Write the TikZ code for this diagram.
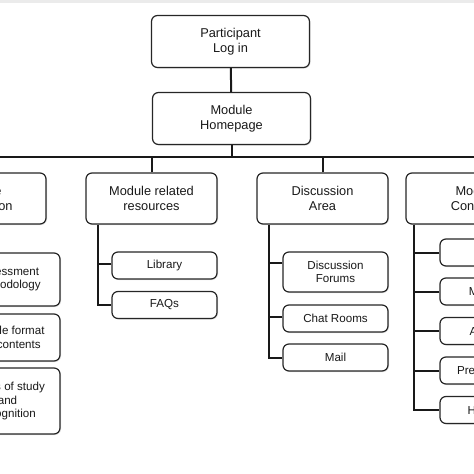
\documentclass[tikz,border=0pt]{standalone}
\usepackage{fontspec}
\setmainfont{Liberation Sans}
\usetikzlibrary{shadows}

\begin{document}
\begin{tikzpicture}[x=1pt,y=-1pt]
 \tikzstyle{box} = [draw=black!85,line width=1.2pt,fill=white,rounded corners=6pt,align=center,inner sep=0pt,text=black!90,drop shadow={shadow xshift=1pt,shadow yshift=-1pt,opacity=0.25}]
 \tikzstyle{topbox} = [box,minimum width=\topw,minimum height=52,font=\fontsize{12.8}{15}\selectfont]
 \tikzstyle{midbox} = [box,minimum width=\midw,minimum height=51,font=\fontsize{12.8}{15}\selectfont]
 \tikzstyle{subbox} = [box,minimum width=\subw,minimum height=27,font=\fontsize{11.6}{13.4}\selectfont]
 \tikzstyle{link} = [draw=black!90,line width=2pt]
 \newcommand{\topw}{158}
 \newcommand{\midw}{131}
 \newcommand{\subw}{105}

 \clip (0,0) rectangle (474,474);
 \fill[black!8] (0,0) rectangle (474,3);

 % Top of the tree
 \node[topbox] (login) at (230.5,41.5) {Participant\\Log in};
 \node[topbox] (home) at (231.5,118.5) {Module\\Homepage};
 \coordinate (bus) at (231.5,157);

 % Second level
 \node[midbox] (info) at (-19.5,198.5) {Module\\Information};
 \node[midbox] (res) at (151.5,198.5) {Module related\\resources};
 \node[midbox] (disc) at (322.5,198.5) {Discussion\\Area};
 \node[midbox,minimum width=141] (cont) at (476.5,198.5) {Module\\Contents};

 % Leaves
 \node[subbox,minimum height=53] (assess) at (7.5,279.5) {Assessment\\methodology};
 \node[subbox,minimum height=47] (format) at (7.5,337.5) {Module format\\and contents};
 \node[subbox,minimum height=66] (hours) at (7.5,401) {Hours of study\\and\\recognition};

 \node[subbox] (lib) at (164.5,265.5) {Library};
 \node[subbox] (faq) at (164.5,305) {FAQs};

 \node[subbox,minimum height=40] (forum) at (335.5,272) {Discussion\\Forums};
 \node[subbox] (chat) at (335.5,318.5) {Chat Rooms};
 \node[subbox] (mail) at (335.5,357.5) {Mail};

 \node[subbox] (video) at (492.5,252.5) {Video};
 \node[subbox] (mat) at (492.5,291.5) {Materials};
 \node[subbox] (act) at (492.5,331) {Activities};
 \node[subbox] (pres) at (492.5,370.5) {Presentations};
 \node[subbox] (hand) at (492.5,410) {Handouts};

 % Links
 \draw[link] (login) -- (home);
 \draw[link] (home) -- (home.south |- bus);
 \draw[link] (info.north) -- (info.north |- bus) -- (cont.north |- bus) -- (cont.north);
 \draw[link] (res.north) -- (res.north |- bus);
 \draw[link] (disc.north) -- (disc.north |- bus);

 \draw[link] ([xshift=13pt]info.south west) coordinate (t1) |- (hours.west);
 \draw[link] (assess.west) -- (assess.west -| t1);
 \draw[link] (format.west) -- (format.west -| t1);

 \draw[link] ([xshift=13pt]res.south west) coordinate (t2) |- (faq.west);
 \draw[link] ([yshift=2pt]lib.west) -- ([yshift=2pt]lib.west -| t2);

 \draw[link] ([xshift=13pt]disc.south west) coordinate (t3) |- (mail.west);
 \draw[link] ([yshift=9pt]forum.west) -- ([yshift=9pt]forum.west -| t3);
 \draw[link] ([yshift=2pt]chat.west) -- ([yshift=2pt]chat.west -| t3);

 \draw[link] ([xshift=9pt]cont.south west) coordinate (t4) |- (hand.west);
 \draw[link] (video.west) -- (video.west -| t4);
 \draw[link] (mat.west) -- (mat.west -| t4);
 \draw[link] (act.west) -- (act.west -| t4);
 \draw[link] (pres.west) -- (pres.west -| t4);

\end{tikzpicture}
\end{document}
